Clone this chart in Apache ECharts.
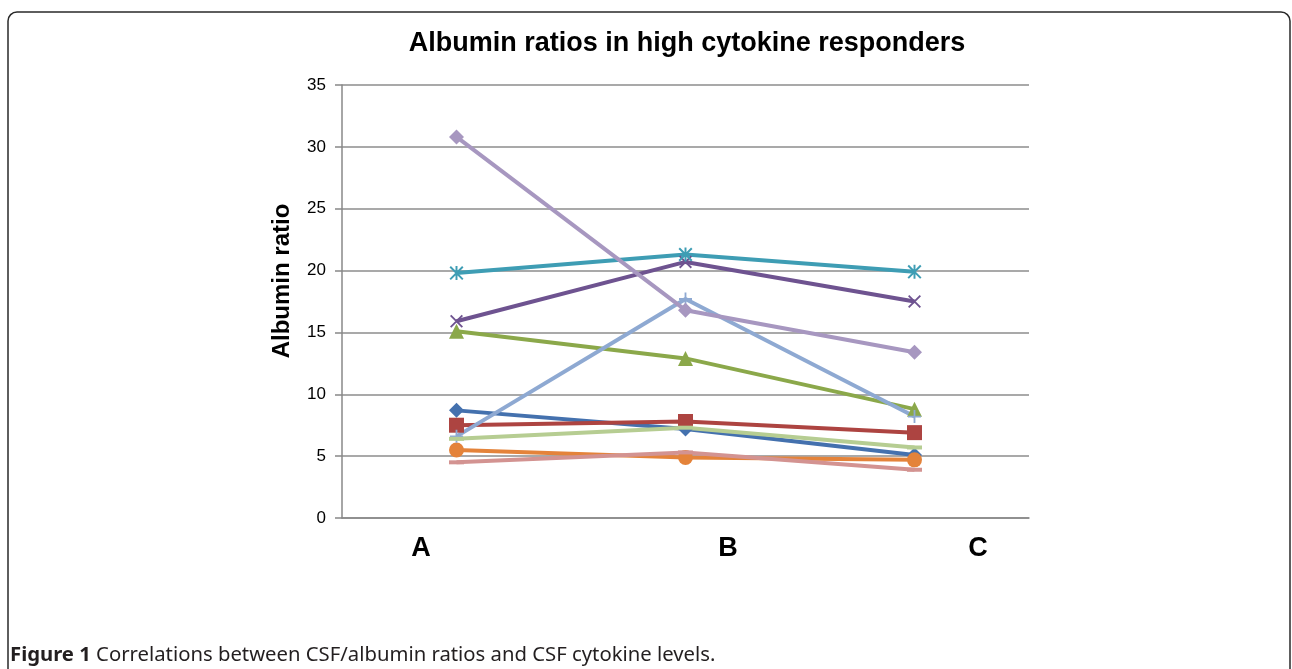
<!DOCTYPE html>
<html>
<head>
<meta charset="utf-8">
<title>Albumin ratios</title>
<script src="https://cdn.jsdelivr.net/npm/echarts@6/dist/echarts.min.js"></script>
<style>
html, body { margin: 0; padding: 0; background: #fff; }
#main { width: 1292px; height: 669px; }
</style>
</head>
<body>
<div id="main"></div>
<script>
// 数据
var categories = ['A', 'B', 'C'];
var yTicks = [0, 5, 10, 15, 20, 25, 30, 35];
var s1 = [8.7, 7.2, 5.1];
var s2 = [7.5, 7.8, 6.9];
var s3 = [15.1, 12.9, 8.8];
var s4 = [15.9, 20.7, 17.5];
var s5 = [19.8, 21.3, 19.9];
var s6 = [5.5, 4.9, 4.7];
var s7 = [6.6, 17.7, 8.2];
var s8 = [4.5, 5.3, 3.9];
var s9 = [6.4, 7.3, 5.7];
var s10 = [30.8, 16.8, 13.4];

var symX = 'path://M0,1L1,0L10,9L9,10Z M9,0L10,1L1,10L0,9Z';
var symStar = 'path://M0,1L1,0L10,9L9,10Z M9,0L10,1L1,10L0,9Z M4.3,0H5.7V10H4.3Z';
var symPlus = 'path://M4.3,0H5.7V10H4.3Z M0,4.3H10V5.7H0Z';

var chart = echarts.init(document.getElementById('main'));

function mkSeries(name, data, color, symbol, size) {
	return {
		name : name,
		type : 'line',
		data : data,
		symbol : symbol,
		symbolSize : size,
		lineStyle : {
			color : color,
			width : 4
		},
		itemStyle : {
			color : color
		}
	};
}

// x轴标签位置(参考图里不在类目中心)
var labelX = [421, 728, 978];
var graphics = [ {
	type : 'rect',
	shape : { x : 8, y : 12, width : 1282, height : 720, r : 9 },
	style : { fill : 'none', stroke : '#2a2a2a', lineWidth : 1.5 },
	silent : true
}, {
	type : 'text',
	x : 687,
	y : 44,
	style : {
		text : 'Albumin ratios in high cytokine responders',
		font : 'bold 27px "Liberation Sans", Arial, sans-serif',
		fill : '#000',
		align : 'center',
		verticalAlign : 'middle'
	}
}, {
	type : 'text',
	x : 10,
	y : 655,
	style : {
		text : '{b|Figure 1} Correlations between CSF/albumin ratios and CSF cytokine levels.',
		fill : '#231f20',
		verticalAlign : 'middle',
		rich : {
			b : {
				fontFamily : '"Noto Sans", sans-serif',
				fontWeight : 'bold',
				fontSize : 20.3,
				fill : '#231f20'
			}
		},
		fontFamily : '"Noto Sans", sans-serif',
		fontSize : 20.3
	}
} ];
for (var i = 0; i < categories.length; i++) {
	graphics.push({
		type : 'text',
		x : labelX[i],
		y : 549,
		style : {
			text : categories[i],
			font : 'bold 27px "Liberation Sans", Arial, sans-serif',
			fill : '#000',
			align : 'center',
			verticalAlign : 'middle'
		}
	});
}

var option = {
	backgroundColor : '#fff',
	animation : false,
	grid : {
		left : 342,
		right : 263,
		top : 85,
		bottom : 151
	},
	xAxis : {
		type : 'category',
		data : categories,
		boundaryGap : true,
		axisLine : { lineStyle : { color : '#888', width : 1.5 } },
		axisTick : { show : false },
		axisLabel : { show : false }
	},
	yAxis : {
		type : 'value',
		min : yTicks[0],
		max : yTicks[yTicks.length - 1],
		interval : 5,
		name : 'Albumin ratio',
		nameLocation : 'middle',
		nameRotate : 90,
		nameGap : 48,
		nameTextStyle : {
			fontFamily : '"Liberation Sans", Arial, sans-serif',
			fontWeight : 'bold',
			fontSize : 24,
			color : '#000',
			padding : [ 0, 0, 0, 41 ]
		},
		axisLine : { show : true, lineStyle : { color : '#888', width : 1.5 } },
		axisTick : { show : true, length : 7, lineStyle : { color : '#888', width : 1.5 } },
		axisLabel : {
			margin : 16,
			fontFamily : '"Liberation Sans", Arial, sans-serif',
			fontSize : 17,
			color : '#000'
		},
		splitLine : { lineStyle : { color : '#8c8c8c', width : 1.5 } }
	},
	graphic : graphics,
	series : [
		mkSeries('1', s1, '#4471ae', 'diamond', 15),
		mkSeries('2', s2, '#ad4441', 'rect', 15),
		mkSeries('3', s3, '#8ba84a', 'triangle', 15),
		mkSeries('4', s4, '#6e5390', symX, 13),
		mkSeries('5', s5, '#3e9db4', symStar, 14),
		mkSeries('6', s6, '#e4833a', 'circle', 15),
		mkSeries('7', s7, '#8ea9d2', symPlus, 13),
		mkSeries('8', s8, '#d39391', 'rect', [ 15, 4 ]),
		mkSeries('9', s9, '#b6cd92', 'rect', [ 15, 4 ]),
		mkSeries('10', s10, '#a797c0', 'diamond', 15)
	]
};
chart.setOption(option);
</script>
</body>
</html>
